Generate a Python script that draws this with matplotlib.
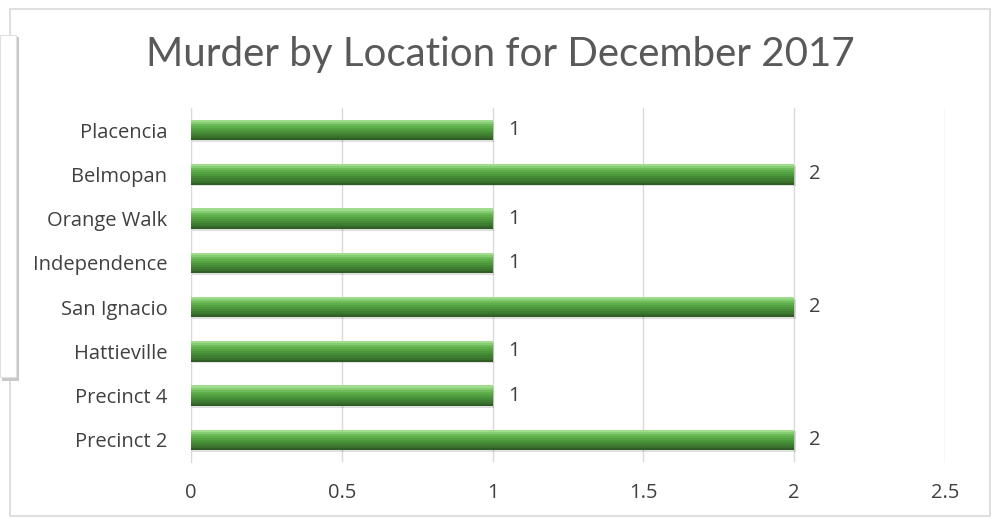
import matplotlib
matplotlib.use('Agg')
import matplotlib.pyplot as plt
from matplotlib.patches import Rectangle

locations = ['Precinct 2', 'Precinct 4', 'Hattieville', 'San Ignacio',
             'Independence', 'Orange Walk', 'Belmopan', 'Placencia']
murders = [2, 1, 1, 2, 1, 1, 2, 1]
xticks = [0, 0.5, 1, 1.5, 2, 2.5]

plt.rcParams['font.family'] = ['Open Sans', 'DejaVu Sans']

fig = plt.figure(figsize=(9.97, 5.25), dpi=100)
W, H = 997, 525

# chart frame
fig.patches.append(Rectangle((10 / W, 9 / H), 980 / W, 507 / H, transform=fig.transFigure,
                             facecolor='white', edgecolor='#d9d9d9', linewidth=1.2, zorder=-5))

ax = fig.add_axes([191 / W, 1 - 462 / H, 754 / W, 354 / H])
ax.set_facecolor('none')
ypos = list(range(len(locations)))
h = 0.46

# soft shadow under each bar
ax.barh([y - 0.04 for y in ypos], [v + 0.005 for v in murders], height=h, color='#000000',
        alpha=0.12, zorder=2)

# bevel look: stack thin strips, light on top to dark at the bottom
shades = ['#2f5e25', '#3a722d', '#3f7e31', '#458a36', '#4c963c', '#55a243',
          '#5fae4c', '#6cba58', '#86cc72', '#9fdc8c']
n = len(shades)
for i, c in enumerate(shades):
    off = -h / 2 + (i + 0.5) * h / n
    ax.barh([y + off for y in ypos], murders, height=h / n + 0.002, color=c, zorder=3,
            linewidth=0)

for y, v in zip(ypos, murders):
    ax.text(v + 0.05, y, str(v), va='center', ha='left', fontsize=14.5, color='#404040')

ax.set_xlim(0, 2.5)
ax.set_ylim(-0.5, len(locations) - 0.5)
ax.set_xticks(xticks)
ax.set_xticklabels([f'{t:g}' for t in xticks])
ax.set_yticks(ypos)
ax.set_yticklabels(locations)
ax.tick_params(axis='both', length=0, labelsize=14.5, labelcolor='#404040')
ax.tick_params(axis='y', pad=17)
ax.tick_params(axis='x', pad=15)
ax.grid(axis='x', color='#d9d9d9', linewidth=1)
ax.set_axisbelow(True)
for s in ['top', 'right', 'bottom']:
    ax.spines[s].set_visible(False)
ax.spines['left'].set_color('#d9d9d9')

fig.text(0.502, 1 - 66 / H, 'Murder by Location for December 2017', ha='center', va='baseline',
         fontsize=29, color='#595959', family=['Lato', 'DejaVu Sans'])

# overlapping white box with shadow on the left
fig.patches.append(Rectangle((2 / W, 1 - 381 / H), 17 / W, 344 / H, transform=fig.transFigure,
                             facecolor='#c8c8c8', edgecolor='none', zorder=5))
fig.patches.append(Rectangle((0, 1 - 377 / H), 16 / W, 342 / H, transform=fig.transFigure,
                             facecolor='white', edgecolor='#e0e0e0', linewidth=0.8, zorder=6))

fig.savefig('out.png', dpi=100)
